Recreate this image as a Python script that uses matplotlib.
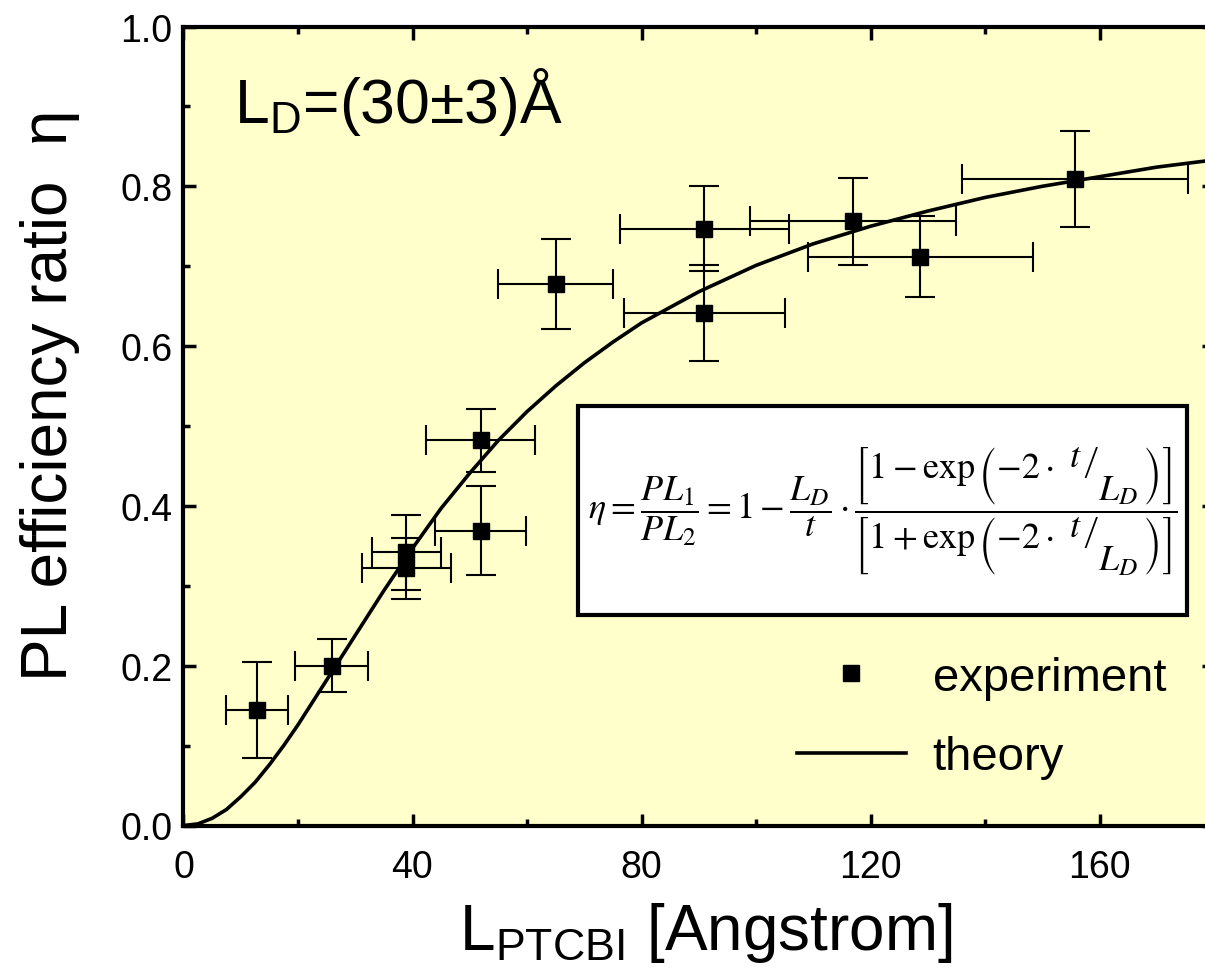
import matplotlib
matplotlib.use("Agg")
import matplotlib.pyplot as plt
from matplotlib.patches import Rectangle
from matplotlib.ticker import MultipleLocator

plt.rcParams['font.family'] = ['Liberation Sans', 'DejaVu Sans']

# experimental points
exp_x = [12.9, 25.9, 38.9, 38.9, 51.9, 51.9, 65.0, 91.0, 91.0, 117.0, 128.7, 155.7]
exp_y = [0.145, 0.200, 0.342, 0.322, 0.482, 0.369, 0.678, 0.747, 0.641, 0.756, 0.712, 0.809]
exp_xerr = [5.4, 6.4, 6.0, 7.8, 9.5, 8.0, 10.0, 14.8, 14.0, 18.0, 19.7, 19.8]
exp_yerr = [0.060, 0.033, 0.047, 0.038, 0.039, 0.056, 0.056, 0.053, 0.060, 0.055, 0.051, 0.060]

# theory curve
theory_x = [0, 2.5, 5, 7.5, 10, 12.5, 15, 17.5, 20, 25, 30, 35, 40, 45, 50, 55, 60, 65, 70, 75, 80,
            90, 100, 110, 120, 130, 140, 150, 160, 170, 180]
theory_y = [0.0, 0.002, 0.009, 0.020, 0.036, 0.054, 0.076, 0.100, 0.126, 0.182, 0.238, 0.294, 0.347,
            0.397, 0.441, 0.482, 0.518, 0.550, 0.579, 0.605, 0.629,
            0.668, 0.701, 0.728, 0.750, 0.769, 0.786, 0.800, 0.812, 0.824, 0.833]

x_ticks = [0, 40, 80, 120, 160]
y_ticks = [0.0, 0.2, 0.4, 0.6, 0.8, 1.0]
y_ticklabels = ['0.0', '0.2', '0.4', '0.6', '0.8', '1.0']

W, H = 1205, 970
fig = plt.figure(figsize=(W / 100, H / 100), dpi=100)
ax_left, ax_right = 183.5, 183.5 + 180 * 5.725
ax_top, ax_bot = 27.5, 826.5
ax = fig.add_axes([ax_left / W, 1 - ax_bot / H, (ax_right - ax_left) / W, (ax_bot - ax_top) / H])
ax.set_facecolor('#FFFFCC')

ax.errorbar(exp_x, exp_y, xerr=exp_xerr, yerr=exp_yerr, fmt='none', ecolor='black',
            elinewidth=1.5, capsize=11, capthick=1.5, zorder=3)
ax.plot(exp_x, exp_y, 's', color='black', markersize=11.5, label='experiment', zorder=4)
ax.plot(theory_x, theory_y, '-', color='black', lw=2.6, label='theory', zorder=5)

ax.set_xlim(0, 180)
ax.set_ylim(0, 1.0)
ax.set_xticks(x_ticks)
ax.set_yticks(y_ticks)
ax.set_yticklabels(y_ticklabels)
ax.xaxis.set_minor_locator(MultipleLocator(20))
ax.yaxis.set_minor_locator(MultipleLocator(0.1))
ax.tick_params(which='both', direction='in', top=True, right=True, width=2.5)
ax.tick_params(which='major', length=9)
ax.tick_params(which='minor', length=5)
ax.tick_params(axis='x', which='major', labelsize=27, pad=17)
ax.tick_params(axis='y', which='major', labelsize=27, pad=8)
for s in ax.spines.values():
    s.set_linewidth(3)

ax.set_xlabel(r'L$_\mathregular{PTCBI}$ [Angstrom]', fontsize=46, labelpad=11)
ax.xaxis.label.set_x(0.507)
ax.set_ylabel('PL efficiency ratio  η', fontsize=46)
ax.yaxis.set_label_coords((80 - ax_left) / (ax_right - ax_left), 0.54)

ax.text(0.049, 0.880, r'L$_\mathregular{D}$=(30±3)Å', transform=ax.transAxes,
        fontsize=45, ha='left', va='baseline')

bx0, bx1 = (578 - ax_left) / (ax_right - ax_left), (1187 - ax_left) / (ax_right - ax_left)
by0, by1 = (ax_bot - 616) / (ax_bot - ax_top), (ax_bot - 407) / (ax_bot - ax_top)
ax.add_patch(Rectangle((bx0, by0), bx1 - bx0, by1 - by0, transform=ax.transAxes,
                       facecolor='white', edgecolor='black', lw=3, zorder=6))

slash_options = [
    r'\left.\genfrac{}{}{0}{0}{t}{\ }\right/\genfrac{}{}{0}{0}{\ }{L_D}',
    r'\dfrac{t}{L_D}',
    r'{}^{t}/_{L_D}',
]
def make_formula(sl):
    return (r'$\eta=\dfrac{PL_1}{PL_2}=1-\dfrac{L_D}{t}\cdot'
            r'\dfrac{\left[1-\exp\left(-2\cdot\ ' + sl + r'\right)\right]}'
            r'{\left[1+\exp\left(-2\cdot\ ' + sl + r'\right)\right]}$')

ftxt = ax.text((bx0 + bx1) / 2, (by0 + by1) / 2, '', transform=ax.transAxes,
               fontsize=26, ha='center', va='center', math_fontfamily='stix', zorder=7)
for sl in slash_options:
    ftxt.set_text(make_formula(sl))
    try:
        fig.canvas.draw()
        break
    except Exception:
        continue

leg = ax.legend(loc='center left', bbox_to_anchor=(797 / W, 1 - 718.5 / H),
                bbox_transform=fig.transFigure, frameon=False, fontsize=34,
                borderpad=0, borderaxespad=0, handlelength=2.3, handletextpad=0.57,
                labelspacing=0.75)

fig.savefig('out.png', dpi=100)
